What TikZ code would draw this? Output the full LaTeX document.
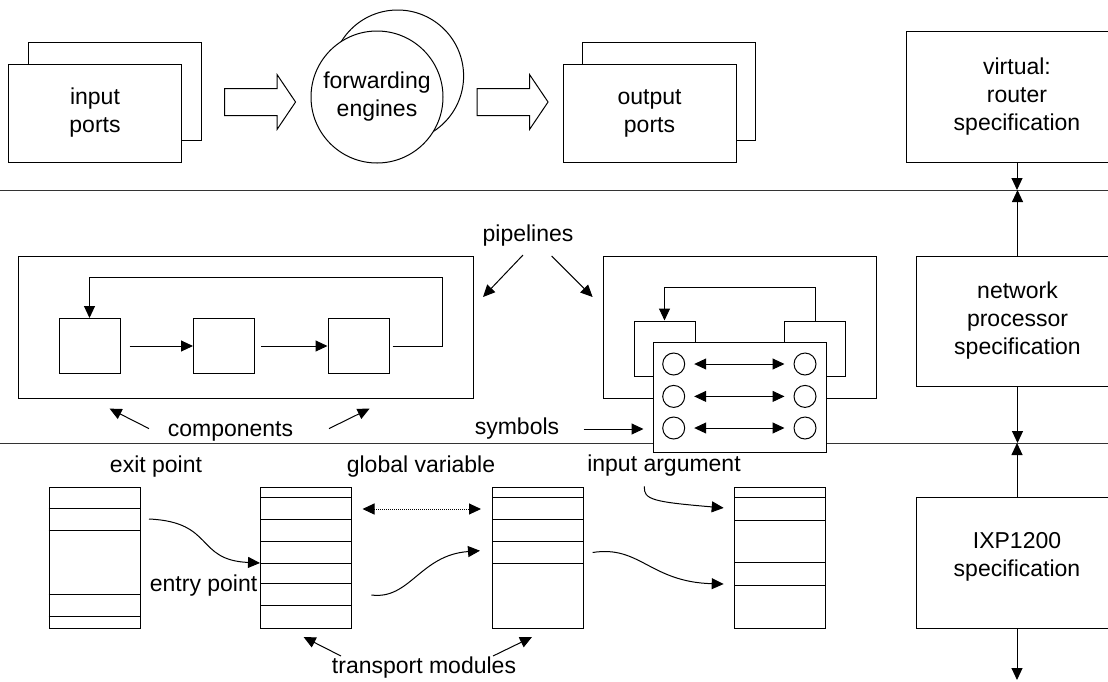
\documentclass[tikz,border=0pt]{standalone}
\usepackage{fontspec}
\setmainfont{Liberation Sans}
\usetikzlibrary{arrows.meta,shapes.arrows}

\tikzset{
  plainbox/.style={draw, fill=white, inner sep=0pt, align=center},
  portbox/.style={plainbox, minimum width=173pt, minimum height=98pt},
  stagebox/.style={plainbox, minimum width=61pt, minimum height=55pt},
  specbox/.style={plainbox, minimum width=202pt, minimum height=130pt},
  modbox/.style={plainbox, minimum width=91pt, minimum height=141.6pt},
  slot/.style={circle, draw, minimum size=22pt, inner sep=0pt},
  flowarrow/.style={single arrow, draw, fill=white, inner xsep=0pt, inner ysep=13pt,
    minimum height=71pt, single arrow head extend=13.8pt, single arrow tip angle=112},
  tag/.style={inner sep=0pt},
  layer/.style={draw=black!80},
}

\begin{document}
\begin{tikzpicture}[x=1pt,y=-1pt,line width=1pt,>={Triangle[length=12pt,width=11pt]},
    font=\fontsize{23}{28}\selectfont]
    \useasboundingbox (0,0) rectangle (1108,681);

    % router level
    \node (inback) [portbox] at (115,91) {};
    \node (inport) [portbox] at ([shift={(-20,22)}]inback) {input\\ports};
    \node (fwdback) [plainbox, circle, minimum size=132pt] at (397.6,76) {};
    \node (fwd) [plainbox, circle, minimum size=132pt] at ([shift={(-20.6,21)}]fwdback) {forwarding\\engines};
    \node (outback) [portbox] at (669,91) {};
    \node (outport) [portbox] at ([shift={(-19.5,22)}]outback) {output\\ports};
    \node (flowin) [flowarrow] at (255.5,102) {};
    \node (flowout) [flowarrow] at (508,102) {};
    \node (virt) [specbox, minimum width=222pt, minimum height=131pt] at (1017,97) {virtual:\\router\\specification};

    \coordinate (layerA) at (0,190);
    \coordinate (layerAend) at (1108,190);
    \coordinate (layerB) at (0,443);
    \coordinate (layerBend) at (1108,443);
    \draw[layer] (layerA) -- (layerAend);
    \draw[layer] (layerB) -- (layerBend);

    % network processor level
    \node (pipeA) [plainbox, minimum width=455pt, minimum height=142pt] at (246.3,327) {};
    \node (compA) [stagebox] at (89.5,346) {};
    \node (compB) [stagebox, right of=compA, node distance=134.5pt] {};
    \node (compC) [stagebox, right of=compB, node distance=134.5pt] {};
    \draw[->, shorten <=9pt] (compA) -- (compB);
    \draw[->, shorten <=6pt] (compB) -- (compC);
    \draw[->] ([xshift=3pt]compC.east) -| ++(50,-69) -| (compA.north);

    \node (pipeB) [plainbox, minimum width=273pt, minimum height=142pt] at (739.5,327) {};
    \node (stageL) [stagebox] at (664.5,348.5) {};
    \node (stageR) [stagebox] at (815,348.5) {};
    \draw[->] (stageR.north) -- ++(0,-33.5) -| (stageL.north);
    \node (symtab) [plainbox, minimum width=173pt, minimum height=110pt] at (739.5,397.5) {};
    \node (symA) [slot] at (673.7,364) {};
    \node (symB) [slot] at (673.7,396.4) {};
    \node (symC) [slot] at (673.7,428) {};
    \node (symD) [slot] at (805,364) {};
    \node (symE) [slot] at (805,396.4) {};
    \node (symF) [slot] at (805,428) {};
    \draw[<->, shorten <=9pt, shorten >=9pt] (symA) -- (symD);
    \draw[<->, shorten <=9pt, shorten >=9pt] (symB) -- (symE);
    \draw[<->, shorten <=9pt, shorten >=9pt] (symC) -- (symF);

    \node (pipetag) [tag] at (528,236) {pipelines};
    \draw[->] ([shift={(-5,19)}]pipetag.center) -- ++(-40,42);
    \draw[->] ([shift={(23.6,20)}]pipetag.center) -- ++(41,41);
    \node (comptag) [tag] at (230.5,431) {components};
    \draw[->] ([shift={(-81.5,-2.4)}]comptag.center) -- ++(-39.4,-20);
    \draw[->] ([shift={(98.5,-2.4)}]comptag.center) -- ++(40.6,-20);
    \node (symtag) [tag] at (517,429) {symbols};
    \draw[->, shorten <=24pt, shorten >=9pt] (symtag.east) -- (symtab.west |- symtag);

    \node (netproc) [specbox, minimum width=203pt] at (1017.5,321) {network\\processor\\specification};
    \draw[->] (virt.south) -- (virt.south |- layerA);
    \draw[->] (netproc.north) -- (netproc.north |- layerA);
    \draw[->] (netproc.south) -- (netproc.south |- layerB);

    % IXP1200 level
    \node (modA) [modbox] at (94.5,557.8) {};
    \node (modB) [modbox] at (306.3,557.8) {};
    \node (modC) [modbox] at (538.4,557.8) {};
    \node (modD) [modbox] at (780.2,557.8) {};
    \foreach \d in {22,44,107.6,130}
        \draw ([yshift=-\d pt]modA.north west) -- ([yshift=-\d pt]modA.north east);
    \foreach \d in {11,33,55,77,97,119}
        \draw ([yshift=-\d pt]modB.north west) -- ([yshift=-\d pt]modB.north east);
    \foreach \d in {11,33,55,77}
        \draw ([yshift=-\d pt]modC.north west) -- ([yshift=-\d pt]modC.north east);
    \foreach \d in {11,33.7,75.5,98.7}
        \draw ([yshift=-\d pt]modD.north west) -- ([yshift=-\d pt]modD.north east);

    \node (exittag) [tag] at (156,467) {exit point};
    \node (globtag) [tag] at (421,467) {global variable};
    \node (argtag) [tag] at (664,466) {input argument};
    \node (entrytag) [tag] at (203.6,585.7) {entry point};
    \node (transtag) [tag] at (424,668) {transport modules};
    \draw[->] ([shift={(-83,-12)}]transtag.center) -- ++(-37.4,-19);
    \draw[->] ([shift={(69,-12)}]transtag.center) -- ++(39,-19);

    \coordinate (exitA) at (149,519);
    \coordinate (entryB) at (260,563);
    \coordinate (exitB) at (371.4,595);
    \coordinate (entryC) at (480,550.7);
    \coordinate (argstart) at (644.4,486.4);
    \coordinate (argD) at (723.7,507.9);
    \coordinate (exitC) at (592.6,552.5);
    \coordinate (entryD) at (723.7,584);
    \coordinate (globB) at (362.5,509);
    \coordinate (globC) at (481,509);
    \draw[->] (exitA) .. controls (215,522) and (195,560) .. (entryB);
    \draw[->] (exitB) .. controls (410,600) and (420,555) .. (entryC);
    \draw[->] (argstart) .. controls (643,500) and (655,502) .. (argD);
    \draw[->] (exitC) .. controls (640,545) and (650,582) .. (entryD);
    \draw[<->, densely dotted] (globB) -- (globC);

    \node (ixp) [specbox, minimum height=131.6pt] at (1017,563) {IXP1200\\specification\\[-10pt]\mbox{}};
    \coordinate (sink) at (1017,680);
    \draw[->] (ixp.north) -- (ixp.north |- layerB);
    \draw[->] (ixp.south) -- (sink);
\end{tikzpicture}
\end{document}
